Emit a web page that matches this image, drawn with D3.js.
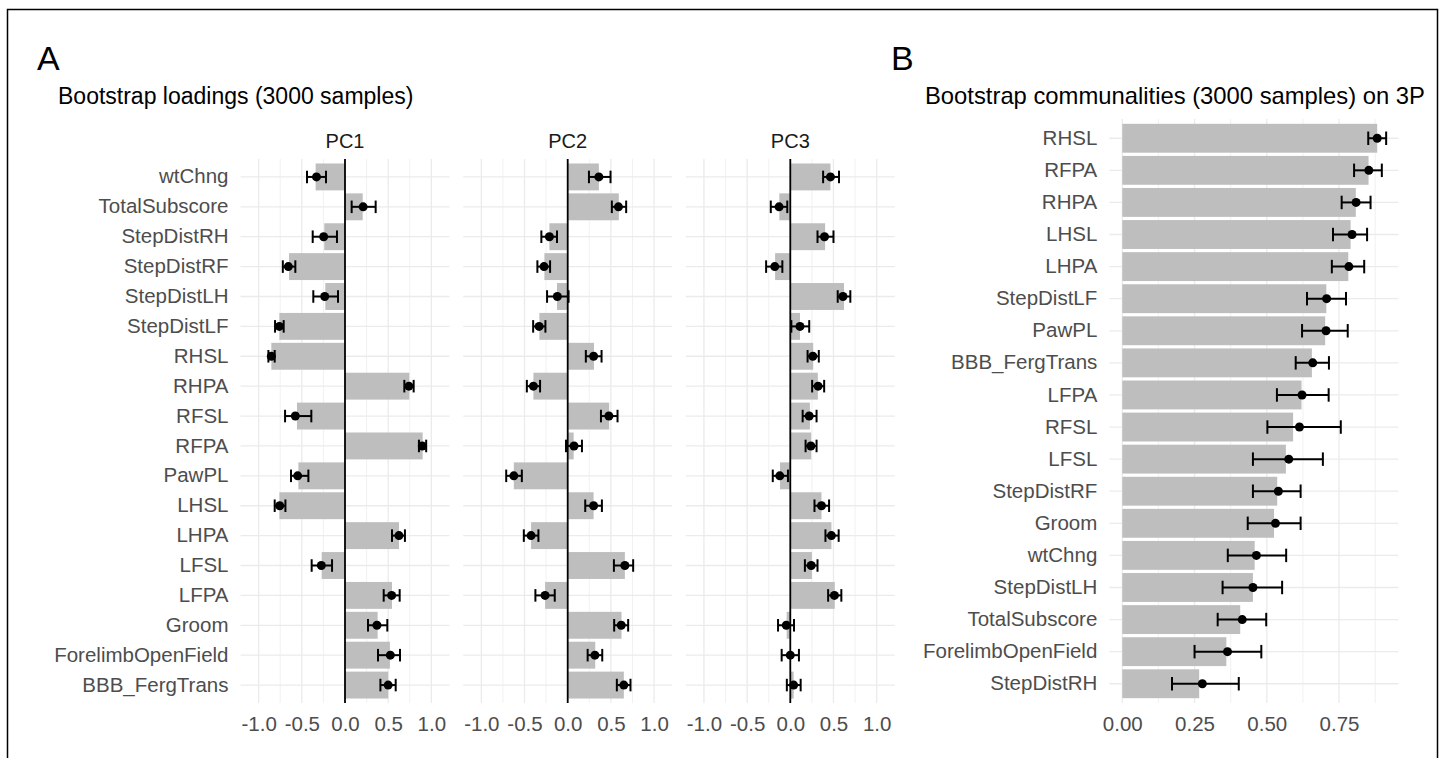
<!DOCTYPE html>
<html>
<head>
<meta charset="utf-8">
<script src="https://cdn.jsdelivr.net/npm/d3@7"></script>
<style>
  body { margin: 0; background: #fff; }
  text { font-family: "Liberation Sans", Arial, sans-serif; }
</style>
</head>
<body>
<div id="chart"></div>
<script>
// --- datos panel A (orden de arriba hacia abajo)
const loadVars = ['wtChng', 'TotalSubscore', 'StepDistRH', 'StepDistRF', 'StepDistLH', 'StepDistLF',
  'RHSL', 'RHPA', 'RFSL', 'RFPA', 'PawPL', 'LHSL', 'LHPA', 'LFSL', 'LFPA', 'Groom',
  'ForelimbOpenField', 'BBB_FergTrans'];
const pcNames = ['PC1', 'PC2', 'PC3'];

const pc1Load = [-0.34, 0.205, -0.24, -0.648, -0.228, -0.76, -0.853, 0.745, -0.556, 0.899, -0.54, -0.76, 0.625, -0.27, 0.544, 0.378, 0.52, 0.50];
const pc1Boot = [-0.33, 0.21, -0.247, -0.656, -0.235, -0.76, -0.853, 0.74, -0.575, 0.895, -0.548, -0.756, 0.625, -0.274, 0.54, 0.37, 0.525, 0.50];
const pc1Lo = [-0.44, 0.077, -0.374, -0.72, -0.367, -0.81, -0.887, 0.687, -0.694, 0.856, -0.625, -0.814, 0.544, -0.386, 0.448, 0.266, 0.382, 0.41];
const pc1Hi = [-0.22, 0.355, -0.093, -0.575, -0.081, -0.71, -0.814, 0.795, -0.39, 0.94, -0.424, -0.69, 0.694, -0.15, 0.633, 0.49, 0.637, 0.587];

const pc2Load = [0.361, 0.592, -0.212, -0.27, -0.124, -0.328, 0.304, -0.397, 0.48, 0.069, -0.624, 0.30, -0.424, 0.662, -0.262, 0.623, 0.319, 0.65];
const pc2Boot = [0.361, 0.588, -0.212, -0.274, -0.12, -0.331, 0.30, -0.397, 0.477, 0.073, -0.624, 0.30, -0.424, 0.662, -0.262, 0.62, 0.315, 0.65];
const pc2Lo = [0.246, 0.511, -0.305, -0.351, -0.239, -0.40, 0.21, -0.473, 0.385, -0.02, -0.712, 0.203, -0.508, 0.535, -0.374, 0.538, 0.231, 0.569];
const pc2Hi = [0.496, 0.677, -0.124, -0.204, 0.01, -0.258, 0.392, -0.32, 0.577, 0.165, -0.531, 0.396, -0.339, 0.758, -0.15, 0.70, 0.40, 0.727];

const pc3Load = [0.465, -0.127, 0.403, -0.176, 0.622, 0.112, 0.265, 0.319, 0.227, 0.242, -0.119, 0.361, 0.476, 0.25, 0.515, -0.042, 0.005, 0.039];
const pc3Boot = [0.465, -0.13, 0.396, -0.18, 0.61, 0.112, 0.261, 0.322, 0.219, 0.238, -0.122, 0.361, 0.476, 0.242, 0.511, -0.046, 0.0, 0.039];
const pc3Lo = [0.38, -0.226, 0.315, -0.28, 0.549, 0.012, 0.20, 0.253, 0.143, 0.177, -0.203, 0.28, 0.407, 0.169, 0.438, -0.142, -0.1, -0.04];
const pc3Hi = [0.564, -0.035, 0.50, -0.092, 0.695, 0.219, 0.33, 0.392, 0.304, 0.304, -0.027, 0.449, 0.56, 0.315, 0.591, 0.043, 0.1, 0.12];

const loadTicks = [-1, -0.5, 0, 0.5, 1];
const loadMinor = [-0.75, -0.25, 0.25, 0.75];

// --- datos panel B
const commVars = ['RHSL', 'RFPA', 'RHPA', 'LHSL', 'LHPA', 'StepDistLF', 'PawPL', 'BBB_FergTrans', 'LFPA',
  'RFSL', 'LFSL', 'StepDistRF', 'Groom', 'wtChng', 'StepDistLH', 'TotalSubscore', 'ForelimbOpenField', 'StepDistRH'];
const commLoad = [0.882, 0.852, 0.808, 0.79, 0.782, 0.706, 0.702, 0.656, 0.62, 0.591, 0.566, 0.536, 0.525, 0.458, 0.452, 0.408, 0.36, 0.266];
const commBoot = [0.882, 0.853, 0.809, 0.795, 0.784, 0.707, 0.705, 0.659, 0.622, 0.613, 0.576, 0.54, 0.53, 0.464, 0.452, 0.415, 0.364, 0.277];
const commLo = [0.851, 0.802, 0.759, 0.729, 0.725, 0.639, 0.622, 0.60, 0.535, 0.502, 0.452, 0.452, 0.434, 0.365, 0.347, 0.33, 0.25, 0.172];
const commHi = [0.913, 0.898, 0.859, 0.847, 0.837, 0.774, 0.78, 0.715, 0.714, 0.756, 0.694, 0.617, 0.617, 0.567, 0.553, 0.498, 0.481, 0.403];

const commTicks = [0, 0.25, 0.5, 0.75];
const commMinor = [0.125, 0.375, 0.625, 0.875];

// --- dimensiones
const WIDTH = 1445;
const HEIGHT = 758;
const GRID = '#ebebeb';
const BAR = '#bebebe';
const LABEL = '#4d4d4d';
const LABEL_SIZE = '20.5px';

const svg = d3.select('#chart').append('svg')
  .attr('width', WIDTH)
  .attr('height', HEIGHT);

// marco
svg.append('path')
  .attr('d', `M 7.5 ${HEIGHT} V 9.5 H 1437.5 V ${HEIGHT}`)
  .style('fill', 'none')
  .style('stroke', '#000')
  .style('stroke-width', 1.5);

// dibuja un panel: barras + puntos + barras de error
const drawPanel = (opts) => {
  const { left, width, top, bottom, domain, cats, load, boot, lo, hi, ticks, minor, fmt, zero, yLabels } = opts;

  const x = d3.scaleLinear().domain(domain).range([left, left + width]);
  const y = d3.scaleBand().domain(cats).range([top, bottom])
    .paddingInner(0.1).paddingOuter(0.15);
  const bw = y.bandwidth();
  const cy = d => y(d) + bw / 2;

  const g = svg.append('g');

  // grilla
  g.selectAll('.minor').data(minor).enter().append('line')
    .attr('x1', d => x(d)).attr('x2', d => x(d))
    .attr('y1', top).attr('y2', bottom)
    .style('stroke', GRID).style('stroke-width', 0.7);
  g.selectAll('.major').data(ticks).enter().append('line')
    .attr('x1', d => x(d)).attr('x2', d => x(d))
    .attr('y1', top).attr('y2', bottom)
    .style('stroke', GRID).style('stroke-width', 1.3);
  g.selectAll('.hgrid').data(cats).enter().append('line')
    .attr('x1', left).attr('x2', left + width)
    .attr('y1', cy).attr('y2', cy)
    .style('stroke', GRID).style('stroke-width', 1.3);

  const rows = cats.map((c, i) => ({ c, v: load[i], m: boot[i], lo: lo[i], hi: hi[i] }));

  // barras
  g.selectAll('.bar').data(rows).enter().append('rect')
    .attr('x', d => x(Math.min(0, d.v)))
    .attr('width', d => Math.abs(x(d.v) - x(0)))
    .attr('y', d => y(d.c))
    .attr('height', bw)
    .style('fill', BAR);

  // linea de cero
  if (zero) {
    g.append('line')
      .attr('x1', x(0)).attr('x2', x(0))
      .attr('y1', top).attr('y2', bottom)
      .style('stroke', '#000').style('stroke-width', 1.8);
  }

  // barras de error
  const cap = y.step() * 0.42 / 2;
  const eb = g.selectAll('.err').data(rows).enter().append('g');
  eb.append('line')
    .attr('x1', d => x(d.lo)).attr('x2', d => x(d.hi))
    .attr('y1', d => cy(d.c)).attr('y2', d => cy(d.c));
  eb.append('line')
    .attr('x1', d => x(d.lo)).attr('x2', d => x(d.lo))
    .attr('y1', d => cy(d.c) - cap).attr('y2', d => cy(d.c) + cap);
  eb.append('line')
    .attr('x1', d => x(d.hi)).attr('x2', d => x(d.hi))
    .attr('y1', d => cy(d.c) - cap).attr('y2', d => cy(d.c) + cap);
  eb.selectAll('line').style('stroke', '#000').style('stroke-width', 2);

  g.selectAll('.pt').data(rows).enter().append('circle')
    .attr('cx', d => x(d.m))
    .attr('cy', d => cy(d.c))
    .attr('r', 4.5)
    .style('fill', '#000');

  // ejes
  const xAxis = g.append('g')
    .attr('transform', `translate(0, ${bottom})`)
    .call(d3.axisBottom(x).tickValues(ticks).tickFormat(fmt).tickSize(0).tickPadding(13));
  xAxis.select('.domain').remove();
  xAxis.selectAll('text')
    .style('font-size', LABEL_SIZE)
    .style('fill', LABEL)
    .style('font-family', '"Liberation Sans", Arial, sans-serif');

  if (yLabels) {
    const yAxis = g.append('g')
      .attr('transform', `translate(${left}, 0)`)
      .call(d3.axisLeft(y).tickSize(0).tickPadding(12));
    yAxis.select('.domain').remove();
    yAxis.selectAll('text')
      .style('font-size', LABEL_SIZE)
      .style('fill', LABEL)
      .style('font-family', '"Liberation Sans", Arial, sans-serif');
  }
  return x;
};

// --- Panel A
const PANEL_A = { TOP: 159, BOTTOM: 703, WIDTH: 209 };
const panelLefts = [240.5, 463.2, 685.8];
const pcData = [
  [pc1Load, pc1Boot, pc1Lo, pc1Hi],
  [pc2Load, pc2Boot, pc2Lo, pc2Hi],
  [pc3Load, pc3Boot, pc3Lo, pc3Hi]
];

pcData.forEach((pc, i) => {
  drawPanel({
    left: panelLefts[i], width: PANEL_A.WIDTH, top: PANEL_A.TOP, bottom: PANEL_A.BOTTOM,
    domain: [-1.21, 1.21], cats: loadVars,
    load: pc[0], boot: pc[1], lo: pc[2], hi: pc[3],
    ticks: loadTicks, minor: loadMinor, fmt: d => d.toFixed(1),
    zero: true, yLabels: i === 0
  });
  svg.append('text')
    .attr('x', panelLefts[i] + PANEL_A.WIDTH / 2)
    .attr('y', 148)
    .attr('text-anchor', 'middle')
    .style('font-size', '20px')
    .style('fill', '#1a1a1a')
    .text(pcNames[i]);
});

svg.append('text').attr('x', 37).attr('y', 70)
  .style('font-size', '34px').style('fill', '#000').text('A');
svg.append('text').attr('x', 58).attr('y', 104)
  .style('font-size', '23px').style('fill', '#000').text('Bootstrap loadings (3000 samples)');

// --- Panel B
drawPanel({
  left: 1109.3, width: 289, top: 119, bottom: 703,
  domain: [-0.045, 0.955], cats: commVars,
  load: commLoad, boot: commBoot, lo: commLo, hi: commHi,
  ticks: commTicks, minor: commMinor, fmt: d => d.toFixed(2),
  zero: false, yLabels: true
});

svg.append('text').attr('x', 891).attr('y', 70)
  .style('font-size', '34px').style('fill', '#000').text('B');
// el titulo aparece cortado en el original, se deja como se ve
svg.append('text').attr('x', 925).attr('y', 104)
  .style('font-size', '23.8px').style('fill', '#000')
  .text('Bootstrap communalities (3000 samples) on 3P');
</script>
</body>
</html>
